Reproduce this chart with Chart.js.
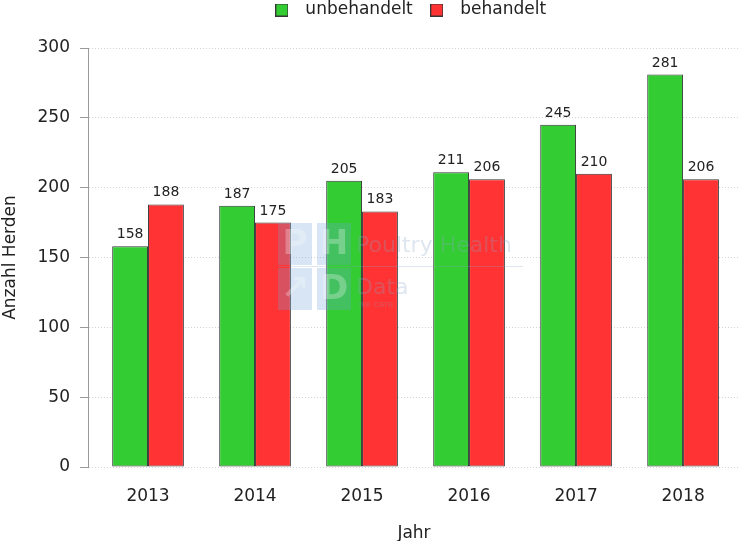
<!DOCTYPE html>
<html><head><meta charset="utf-8">
<script src="https://cdn.jsdelivr.net/npm/chart.js@4/dist/chart.umd.min.js"></script>
<style>html,body{margin:0;padding:0;background:#fff}#wrap{width:743px;height:541px}</style>
</head><body><div id="wrap"><canvas id="c" width="743" height="541"></canvas></div>
<script>
const years = ['2013', '2014', '2015', '2016', '2017', '2018'];
const untreated = [158, 187, 205, 211, 245, 281];
const treated = [188, 175, 183, 206, 210, 206];
const seriesNames = ['unbehandelt', 'behandelt'];
const yTickStep = 50;
const yMin = 0;
const yMax = 300;
const xTitle = 'Jahr';
const yTitle = 'Anzahl Herden';

const FONT = 'DejaVu Sans';
const TXT = '#222222';

function makeSwatch(fill, stroke) {
  const c = document.createElement('canvas');
  c.width = 13; c.height = 13;
  const g = c.getContext('2d');
  g.fillStyle = fill;
  g.fillRect(0, 0, 13, 13);
  g.strokeStyle = stroke;
  g.lineWidth = 1;
  g.strokeRect(0.5, 0.5, 12, 12);
  return c;
}

const valueLabels = {
  id: 'valueLabels',
  afterDatasetsDraw(chart) {
    const ctx = chart.ctx;
    ctx.save();
    ctx.font = '14px "' + FONT + '"';
    ctx.fillStyle = TXT;
    ctx.textAlign = 'center';
    ctx.textBaseline = 'alphabetic';
    chart.data.datasets.forEach((ds, i) => {
      chart.getDatasetMeta(i).data.forEach((bar, j) => {
        ctx.fillText(String(ds.data[j]), bar.x, bar.y - 8);
      });
    });
    ctx.restore();
  }
};

const watermark = {
  id: 'watermark',
  afterDatasetsDraw(chart) {
    const ctx = chart.ctx;
    ctx.save();
    ctx.globalAlpha = 0.28;
    ctx.fillStyle = '#6fa3d6';
    const sq = [[278, 223], [317, 223], [278, 268], [317, 268]];
    sq.forEach(([x, y]) => ctx.fillRect(x, y, 34, 42));
    ctx.fillStyle = '#ffffff';
    ctx.font = 'bold 34px "' + FONT + '"';
    ctx.textAlign = 'center';
    ctx.textBaseline = 'middle';
    ctx.fillText('P', 295, 245);
    ctx.fillText('H', 334, 245);
    ctx.fillText('↗', 295, 290);
    ctx.fillText('D', 334, 290);
    ctx.fillStyle = '#8aa6c4';
    ctx.textAlign = 'left';
    ctx.font = '22px "' + FONT + '"';
    ctx.fillText('Poultry Health', 356, 246);
    ctx.fillText('Data', 356, 288);
    ctx.font = '9px "' + FONT + '"';
    ctx.fillText('we care', 358, 305);
    ctx.fillRect(278, 266, 245, 1);
    ctx.restore();
  }
};

const legendPlacer = {
  id: 'legendPlacer',
  afterLayout(chart) {
    const lg = chart.legend;
    if (!lg) return;
    lg.left = chart.chartArea.left - 15;
    lg.right = chart.chartArea.right;
    lg.width = lg.right - lg.left;
    lg.top = -7.5;
  }
};

new Chart(document.getElementById('c'), {
  type: 'bar',
  data: {
    labels: years,
    datasets: [
      { label: seriesNames[0], data: untreated, backgroundColor: '#33cc33', borderColor: '#363636', borderWidth: 1, borderSkipped: false },
      { label: seriesNames[1], data: treated, backgroundColor: '#ff3333', borderColor: '#363636', borderWidth: 1, borderSkipped: false }
    ]
  },
  options: {
    responsive: false,
    devicePixelRatio: 1,
    animation: false,
    categoryPercentage: 0.67,
    barPercentage: 1.0,
    layout: { padding: { top: 12, right: 3, left: 0, bottom: 0 } },
    plugins: {
      tooltip: { enabled: false },
      legend: {
        position: 'top',
        align: 'center',
        labels: {
          usePointStyle: true,
          pointStyleWidth: 30,
          boxWidth: 13, boxHeight: 13, padding: 9, color: TXT,
          font: { family: FONT, size: 17 },
          generateLabels(chart) {
            const items = Chart.defaults.plugins.legend.labels.generateLabels(chart);
            items.forEach(it => { it.pointStyle = makeSwatch(it.fillStyle, it.strokeStyle); });
            return items;
          }
        }
      }
    },
    scales: {
      x: {
        afterFit(s) { s.height = 74; },
        afterBuildTicks(s) { s._startValue = -0.561; s._valueRange = 6.093; },
        grid: { display: false, drawTicks: false },
        border: { display: false },
        ticks: { color: TXT, font: { family: FONT, size: 17 }, padding: 19 },
        title: { display: true, text: xTitle, color: TXT, font: { family: FONT, size: 17 }, padding: { top: 0, bottom: -3 } }
      },
      y: {
        min: yMin, max: yMax,
        afterFit(s) { s.width = 88; },
        ticks: { stepSize: yTickStep, color: TXT, font: { family: FONT, size: 17 }, padding: 10 },
        grid: { color: '#d4d4d4', tickColor: '#9a9a9a', tickLength: 8, tickBorderDash: [] },
        border: { display: true, color: '#9a9a9a', width: 1, dash: [1, 2] },
        title: { display: true, text: yTitle, color: TXT, font: { family: FONT, size: 17 }, padding: { top: 0, bottom: 0 } }
      }
    }
  },
  plugins: [valueLabels, watermark, legendPlacer]
});
</script>
</body></html>
